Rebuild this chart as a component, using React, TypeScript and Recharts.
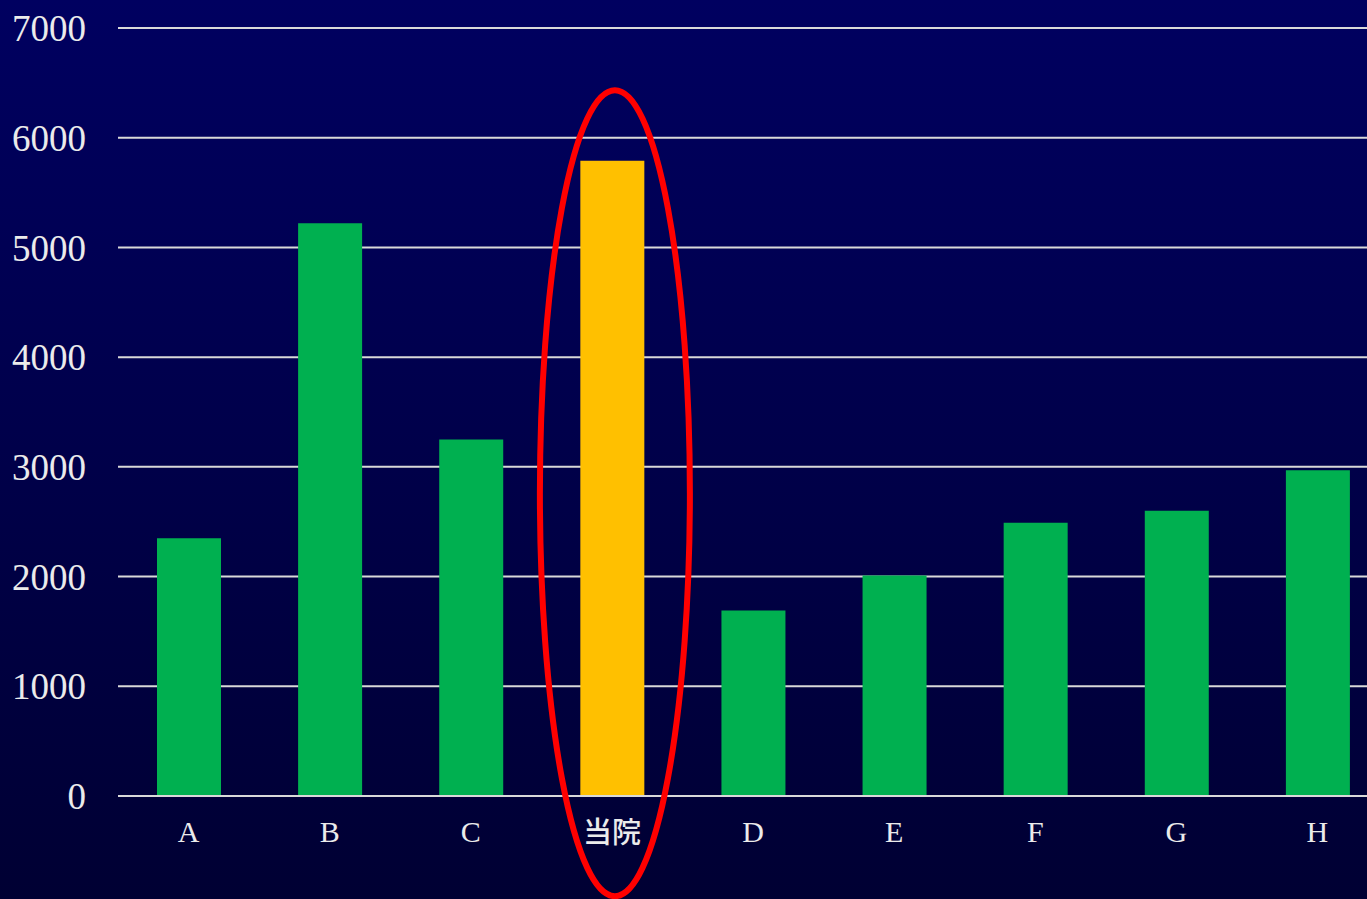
import { BarChart, Bar, XAxis, YAxis, CartesianGrid, Cell, ReferenceDot } from "recharts";

const categories = ["A", "B", "C", "当院", "D", "E", "F", "G", "H"];
const values = [2350, 5220, 3250, 5790, 1690, 2010, 2490, 2600, 2970];
const yTicks = [0, 1000, 2000, 3000, 4000, 5000, 6000, 7000];

const highlight = "当院";
const ringCenterValue = 2760;

const data = categories.map((name, i) => ({ name, value: values[i] }));

const GREEN = "#00b050";
const GOLD = "#ffc000";
const TEXT = "#ebebeb";
const GRID = "#d9d9d9";

function CategoryTick(props: any) {
  const { x, y, payload } = props;
  const cjk = /[^\x00-\x7f]/.test(payload.value);
  return (
    <text
      x={x}
      y={y}
      dy={cjk ? 23 : 22}
      textAnchor="middle"
      fill={TEXT}
      fontSize={cjk ? 29 : 30}
      fontWeight={cjk ? 500 : 400}
      fontFamily={cjk ? "'Noto Sans CJK JP', sans-serif" : "'Liberation Serif', 'Times New Roman', serif"}
    >
      {payload.value}
    </text>
  );
}

function Ring(props: any) {
  const { cx, cy } = props;
  return <ellipse cx={cx + 3} cy={cy} rx={75} ry={403} fill="none" stroke="#ff0000" strokeWidth={6} />;
}

export default function App() {
  return (
    <div
      style={{
        position: "absolute",
        left: 0,
        top: 0,
        width: 1367,
        height: 899,
        overflow: "hidden",
        background: "linear-gradient(to bottom, #000060 0%, #00004a 50%, #000033 100%)",
      }}
    >
      <BarChart
        width={1388}
        height={899}
        data={data}
        margin={{ top: 28, right: 0, bottom: 0, left: 0 }}
        barSize={64}
      >
        <CartesianGrid horizontal vertical={false} stroke={GRID} strokeWidth={2} />
        <XAxis
          dataKey="name"
          height={103}
          axisLine={{ stroke: GRID, strokeWidth: 2 }}
          tickLine={false}
          tickSize={0}
          tickMargin={24}
          tick={<CategoryTick />}
          interval={0}
        />
        <YAxis
          width={118}
          domain={[0, 7000]}
          ticks={yTicks}
          axisLine={false}
          tickLine={false}
          tickSize={0}
          tickMargin={32}
          tick={{ fill: TEXT, fontSize: 37, fontFamily: "'Liberation Serif', 'Times New Roman', serif" }}
        />
        <Bar dataKey="value" isAnimationActive={false}>
          {data.map((d) => (
            <Cell key={d.name} fill={d.name === highlight ? GOLD : GREEN} />
          ))}
        </Bar>
        <ReferenceDot x={highlight} y={ringCenterValue} ifOverflow="visible" shape={<Ring />} />
      </BarChart>
    </div>
  );
}
